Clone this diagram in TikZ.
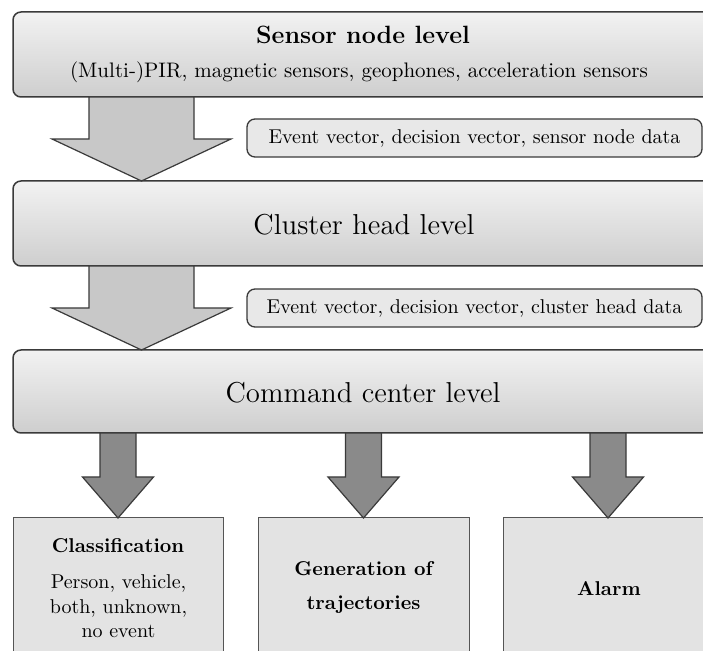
\documentclass[tikz,border=0pt]{standalone}
\usepackage{graphicx}
\usetikzlibrary{calc}
\definecolor{edgedark}{HTML}{3A3A3A}
\definecolor{boxtop}{HTML}{F2F2F2}
\definecolor{boxbot}{HTML}{CECECE}
\definecolor{labelfill}{HTML}{E8E8E8}
\definecolor{arrowlight}{HTML}{C8C8C8}
\definecolor{arrowdark}{HTML}{8A8A8A}
\definecolor{leaffill}{HTML}{E3E3E3}
\definecolor{leafedge}{HTML}{555555}
\newcommand{\fatarrow}[6]{%
  \draw[#6] ($(#1)+(-#3,0)$) -- ($(#2)+(-#3,#5)$) -- ($(#2)+(-#4,#5)$) -- (#2)
    -- ($(#2)+(#4,#5)$) -- ($(#2)+(#3,#5)$) -- ($(#1)+(#3,0)$) -- cycle;}
\begin{document}
\begin{tikzpicture}[x=1pt,y=1pt,
  levelbox/.style={draw=edgedark, line width=1.5pt, rounded corners=8pt,
    top color=boxtop, bottom color=boxbot, minimum width=712pt, minimum height=#1,
    inner sep=0pt, outer sep=0pt},
  labelbox/.style={draw=edgedark, line width=1.3pt, rounded corners=8pt, fill=labelfill,
    minimum width=455pt, minimum height=38pt, inner sep=0pt, outer sep=0pt},
  leafbox/.style={draw=leafedge, line width=1pt, fill=leaffill, minimum width=#1,
    minimum height=162pt, inner sep=0pt, outer sep=0pt},
  txt/.style={scale=2, transform shape, inner sep=0pt, anchor=base},
  lightarrow/.style={draw=edgedark, line width=1.2pt, fill=arrowlight, line join=miter},
  darkarrow/.style={draw=edgedark, line width=1.2pt, fill=arrowdark, line join=miter}]
\useasboundingbox (0,0) rectangle (703,650);
\fill[white] (0,0) rectangle (703,650);
\clip (0,0) rectangle (703,650);

% level boxes
\node[levelbox=85pt] (sensor) at (369,595.5) {};
\node[levelbox=85pt] (cluster) at (369,426.5) {};
\node[levelbox=83pt] (cmd) at (369,258.5) {};

% label boxes
\node[labelbox] (lab1) at (474.5,512) {\scalebox{2}{Event vector, decision vector, sensor node data}};
\node[labelbox] (lab2) at (474.5,342) {\scalebox{2}{Event vector, decision vector, cluster head data}};

% leaf boxes
\node[leafbox=210pt] (leaf1) at (118,51) {};
\node[leafbox=211pt] (leaf2) at (363.5,51) {};
\node[leafbox=220pt] (leaf3) at (613,51) {};

% texts of level boxes
\node[txt, font=\fontsize{12.5}{15}\selectfont\bfseries] (t1) at (363,606) {Sensor node level};
\node[txt, font=\fontsize{10.5}{12.5}\selectfont] (t1b) at (359,572) {(Multi-)PIR, magnetic sensors, geophones, acceleration sensors};
\node[txt, font=\Large] (t2) at (364,415) {Cluster head level};
\node[txt, font=\Large] (t3) at (363,247) {Command center level};

% texts of leaf boxes
\node[txt, font=\bfseries] (c1) at (118,98) {Classification};
\node[txt] (c2) at (118.5,62) {Person, vehicle,};
\node[txt] (c3) at (118.5,37) {both, unknown,};
\node[txt] (c4) at (118.5,13) {no event};
\node[txt, font=\bfseries] (g1) at (363.5,75) {Generation of};
\node[txt, font=\bfseries] (g2) at (363.5,41) {trajectories};
\node[txt, font=\bfseries] (a1) at (609,55) {Alarm};

% block arrows
\coordinate (s1) at ($(sensor.south west)+(128.5,0)$);
\coordinate (e1) at ($(cluster.north west)+(128.5,0)$);
\fatarrow{s1}{e1}{52.5}{89.5}{42}{lightarrow}
\coordinate (s2) at ($(cluster.south west)+(128.5,0)$);
\coordinate (e2) at ($(cmd.north west)+(128.5,0)$);
\fatarrow{s2}{e2}{52.5}{89.5}{42}{lightarrow}

\coordinate (s3) at ($(cmd.south west)+(105,0)$);
\fatarrow{s3}{leaf1.north}{18}{35.5}{41}{darkarrow}
\coordinate (s4) at ($(cmd.south west)+(350.5,0)$);
\fatarrow{s4}{leaf2.north}{18}{35.5}{41}{darkarrow}
\coordinate (s5) at ($(cmd.south west)+(595,0)$);
\coordinate (e5) at ($(leaf3.north west)+(105,0)$);
\fatarrow{s5}{e5}{18}{35.5}{41}{darkarrow}
\end{tikzpicture}
\end{document}
